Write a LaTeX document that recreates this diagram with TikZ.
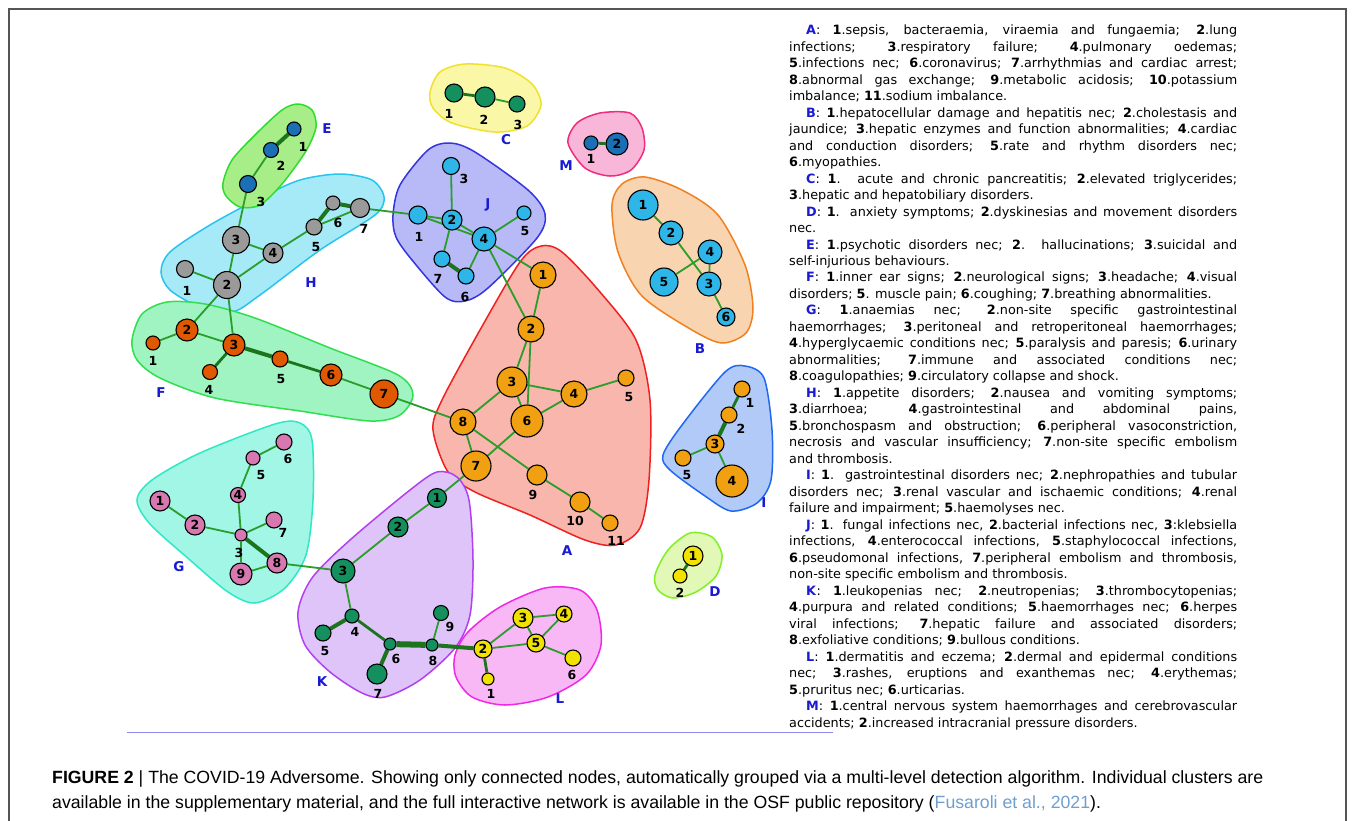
\documentclass[tikz,border=0pt]{standalone}
\usepackage{fontspec}
\setmainfont{DejaVu Sans}
\newfontfamily\capfont{Liberation Sans}
\pgfdeclarelayer{bg}
\pgfdeclarelayer{hulls}
\pgfdeclarelayer{edges}
\pgfsetlayers{bg,hulls,edges,main}
\definecolor{edgeg}{HTML}{2A9D2A}
\definecolor{edgek}{HTML}{1C741C}
\definecolor{nE}{HTML}{1A6FB5}
\definecolor{nH}{HTML}{9A9A9A}
\definecolor{nF}{HTML}{E05800}
\definecolor{nG}{HTML}{D878B0}
\definecolor{nK}{HTML}{14905E}
\definecolor{nL}{HTML}{F2E200}
\definecolor{nA}{HTML}{F0A010}
\definecolor{nJ}{HTML}{2EB6E8}
\definecolor{lblue}{HTML}{1A1AD0}
\definecolor{framec}{HTML}{555555}
\definecolor{rulec}{HTML}{8C8CF0}
\definecolor{refc}{HTML}{6F9FD0}
% hull colours
\definecolor{hEf}{HTML}{A8EE88}\definecolor{hEd}{HTML}{2EDC2E}
\definecolor{hHf}{HTML}{A6EAF8}\definecolor{hHd}{HTML}{28C4EE}
\definecolor{hFf}{HTML}{A0F4C2}\definecolor{hFd}{HTML}{30DE50}
\definecolor{hGf}{HTML}{A2F6E6}\definecolor{hGd}{HTML}{2EE8C6}
\definecolor{hAf}{HTML}{F8B6AC}\definecolor{hAd}{HTML}{F02020}
\definecolor{hKf}{HTML}{DEC4F8}\definecolor{hKd}{HTML}{B040F0}
\definecolor{hLf}{HTML}{F8B8F6}\definecolor{hLd}{HTML}{F028E8}
\definecolor{hJf}{HTML}{B8BAF8}\definecolor{hJd}{HTML}{3434E0}
\definecolor{hCf}{HTML}{FAF8A6}\definecolor{hCd}{HTML}{F0E030}
\definecolor{hMf}{HTML}{F8B6D8}\definecolor{hMd}{HTML}{F02C7C}
\definecolor{hBf}{HTML}{F9D4B0}\definecolor{hBd}{HTML}{F08020}
\definecolor{hIf}{HTML}{B2CAF8}\definecolor{hId}{HTML}{2068F0}
\definecolor{hDf}{HTML}{E2F8B6}\definecolor{hDd}{HTML}{80F028}
\newcommand\clab[1]{\textcolor{lblue}{\textbf{#1}}}
\newcommand\nbf[1]{\textbf{#1}}
\tikzset{
  nd/.style={circle, draw=black, line width=1.1pt, inner sep=0pt, minimum size=#1,
    font=\bfseries\fontsize{12.5}{13}\selectfont},
  ed/.style={draw=edgeg, line width=1.8pt},
  edm/.style={draw=edgek, line width=2.8pt},
  edk/.style={draw=edgek, line width=4pt},
  edx/.style={draw=edgek, line width=6pt},
  lab/.style={inner sep=0pt, font=\bfseries\fontsize{12.5}{13}\selectfont},
  clu/.style={inner sep=0pt, text=lblue, font=\bfseries\fontsize{13.5}{14}\selectfont},
  hull/.style 2 args={fill=#1, draw=#2, line width=1.5pt},
  tl/.style={anchor=base west, inner sep=0pt, font=\fontsize{12.8}{16}\selectfont},
  capl/.style={anchor=base west, inner sep=0pt, font=\capfont\fontsize{17.7}{20}\selectfont},
}
\begin{document}
\begin{tikzpicture}[x=1pt,y=-1pt]
\useasboundingbox (0,0) rectangle (1355,820);
\begin{pgfonlayer}{bg}
\fill[white] (0,0) rectangle (1355,820);
\end{pgfonlayer}
\draw[framec, line width=1.2pt] (9,840) -- (9,9) -- (1346,9) -- (1346,840);

% ---------- hulls ----------
\begin{pgfonlayer}{hulls}
\filldraw[hull={hHf}{hHd}] plot[smooth cycle] coordinates {(161,272) (170,252) (210,225) (260,198) (300,180) (340,174) (372,180) (384,197) (375,215) (320,250) (260,295) (232,312) (198,306) (170,290)};
\filldraw[hull={hEf}{hEd}] plot[smooth cycle] coordinates {(223,183) (232,160) (255,135) (282,110) (298,104) (312,110) (316,127) (306,151) (282,184) (260,205) (240,207) (226,196)};
\filldraw[hull={hFf}{hFd}] plot[smooth cycle] coordinates {(132,340) (142,314) (167,302) (205,304) (255,318) (330,348) (398,375) (413,395) (400,415) (370,421) (300,411) (215,398) (160,378) (137,360)};
\filldraw[hull={hGf}{hGd}] plot[smooth cycle] coordinates {(137,500) (152,480) (200,453) (275,424) (300,423) (312,440) (313,500) (306,555) (285,588) (255,603) (228,592) (190,560) (150,524)};
\filldraw[hull={hAf}{hAd}] plot[smooth cycle] coordinates {(541,246) (562,252) (600,292) (636,340) (650,400) (649,480) (640,528) (616,545) (585,540) (530,515) (475,492) (448,472) (433,430) (442,400) (480,330) (520,262)};
\filldraw[hull={hKf}{hKd}] plot[smooth cycle] coordinates {(437,472) (457,477) (469,500) (473,560) (470,615) (455,648) (420,680) (385,697) (362,693) (330,672) (305,645) (298,612) (312,578) (350,540) (410,490)};
\filldraw[hull={hLf}{hLd}] plot[smooth cycle] coordinates {(455,655) (468,632) (500,607) (545,588) (580,590) (597,610) (601,645) (586,675) (548,697) (505,705) (472,697) (456,677)};
\filldraw[hull={hJf}{hJd}] plot[smooth cycle] coordinates {(393,215) (400,185) (428,150) (450,143) (475,152) (528,190) (545,214) (537,238) (488,288) (465,301) (445,297) (412,260) (396,237)};
\filldraw[hull={hCf}{hCd}] plot[smooth cycle] coordinates {(430,92) (440,72) (465,64) (505,68) (532,84) (541,105) (527,126) (495,132) (452,123) (433,108)};
\filldraw[hull={hMf}{hMd}] plot[smooth cycle] coordinates {(568,143) (577,123) (600,113) (630,113) (642,128) (644,150) (631,170) (610,176) (585,168)};
\filldraw[hull={hBf}{hBd}] plot[smooth cycle] coordinates {(612,205) (622,184) (645,177) (682,190) (718,215) (745,265) (753,308) (746,333) (722,343) (692,330) (642,296) (618,252)};
\filldraw[hull={hIf}{hId}] plot[smooth cycle] coordinates {(663,455) (682,425) (725,372) (745,366) (764,378) (772,430) (771,480) (757,503) (731,511) (705,496) (670,470)};
\filldraw[hull={hDf}{hDd}] plot[smooth cycle] coordinates {(655,575) (668,550) (690,533) (712,537) (722,555) (716,576) (696,592) (673,598) (658,590)};
\end{pgfonlayer}

% ---------- nodes ----------
% E
\node[nd=14, fill=nE] (E1) at (294,129) {};
\node[nd=15, fill=nE] (E2) at (271,150) {};
\node[nd=17, fill=nE] (E3) at (248,184) {};
% H
\node[nd=17, fill=nH] (H1) at (185,269) {};
\node[nd=27, fill=nH] (H2) at (227,285) {2};
\node[nd=27, fill=nH] (H3) at (236,240) {3};
\node[nd=20, fill=nH] (H4) at (273,253) {4};
\node[nd=16, fill=nH] (H5) at (314,227) {};
\node[nd=14, fill=nH] (H6) at (333,203) {};
\node[nd=19, fill=nH] (H7) at (360,208) {};
% F
\node[nd=14, fill=nF] (F1) at (153,343) {};
\node[nd=22, fill=nF] (F2) at (187,330) {2};
\node[nd=22, fill=nF] (F3) at (234,345) {3};
\node[nd=15, fill=nF] (F4) at (210,372) {};
\node[nd=16, fill=nF] (F5) at (280,359) {};
\node[nd=22, fill=nF] (F6) at (331,375) {6};
\node[nd=28, fill=nF] (F7) at (384,394) {7};
% G
\node[nd=20, fill=nG] (G1) at (160,501) {1};
\node[nd=20, fill=nG] (G2) at (195,525) {2};
\node[nd=12, fill=nG] (G3) at (241,535) {};
\node[nd=15, fill=nG] (G4) at (238,495) {4};
\node[nd=14, fill=nG] (G5) at (253,458) {};
\node[nd=16, fill=nG] (G6) at (284,442) {};
\node[nd=16, fill=nG] (G7) at (274,520) {};
\node[nd=20, fill=nG] (G8) at (277,563) {8};
\node[nd=22, fill=nG] (G9) at (241,574) {9};
% K
\node[nd=19, fill=nK] (K1) at (437,498) {1};
\node[nd=20, fill=nK] (K2) at (398,527) {2};
\node[nd=24, fill=nK] (K3) at (343,571) {3};
\node[nd=14, fill=nK] (K4) at (352,616) {};
\node[nd=16, fill=nK] (K5) at (323,633) {};
\node[nd=12, fill=nK] (K6) at (390,644) {};
\node[nd=20, fill=nK] (K7) at (377,674) {};
\node[nd=12, fill=nK] (K8) at (432,645) {};
\node[nd=15, fill=nK] (K9) at (441,613) {};
% L
\node[nd=12, fill=nL] (L1) at (488,679) {};
\node[nd=18, fill=nL] (L2) at (483,649) {2};
\node[nd=20, fill=nL] (L3) at (523,618) {3};
\node[nd=16, fill=nL] (L4) at (564,614) {4};
\node[nd=18, fill=nL] (L5) at (536,643) {5};
\node[nd=16, fill=nL] (L6) at (573,658) {};
% A
\node[nd=26, fill=nA] (A1) at (543,275) {1};
\node[nd=26, fill=nA] (A2) at (531,329) {2};
\node[nd=30, fill=nA] (A3) at (512,382) {3};
\node[nd=26, fill=nA] (A4) at (574,394) {4};
\node[nd=16, fill=nA] (A5) at (626,378) {};
\node[nd=32, fill=nA] (A6) at (527,421) {6};
\node[nd=30, fill=nA] (A7) at (476,466) {7};
\node[nd=26, fill=nA] (A8) at (463,422) {8};
\node[nd=20, fill=nA] (A9) at (537,475) {};
\node[nd=20, fill=nA] (A10) at (580,502) {};
\node[nd=16, fill=nA] (A11) at (610,523) {};
% J
\node[nd=18, fill=nJ] (J1) at (418,215) {};
\node[nd=20, fill=nJ] (J2) at (452,220) {2};
\node[nd=17, fill=nJ] (J3) at (451,166) {};
\node[nd=24, fill=nJ] (J4) at (484,239) {4};
\node[nd=14, fill=nJ] (J5) at (524,213) {};
\node[nd=16, fill=nJ] (J6) at (466,276) {};
\node[nd=16, fill=nJ] (J7) at (442,259) {};
% C
\node[nd=18, fill=nK] (C1) at (454,93) {};
\node[nd=20, fill=nK] (C2) at (485,97) {};
\node[nd=16, fill=nK] (C3) at (517,104) {};
% M
\node[nd=14, fill=nE] (M1) at (591,143) {};
\node[nd=22, fill=nE] (M2) at (617,144) {2};
% B
\node[nd=30, fill=nJ] (B1) at (643,205) {1};
\node[nd=24, fill=nJ] (B2) at (671,233) {2};
\node[nd=24, fill=nJ] (B3) at (709,284) {3};
\node[nd=24, fill=nJ] (B4) at (710,252) {4};
\node[nd=28, fill=nJ] (B5) at (664,282) {5};
\node[nd=18, fill=nJ] (B6) at (726,317) {6};
% I
\node[nd=16, fill=nA] (I1) at (742,389) {};
\node[nd=16, fill=nA] (I2) at (729,415) {};
\node[nd=18, fill=nA] (I3) at (715,444) {3};
\node[nd=32, fill=nA] (I4) at (732,481) {4};
\node[nd=16, fill=nA] (I5) at (683,458) {};
% D
\node[nd=20, fill=nL] (D1) at (693,556) {1};
\node[nd=14, fill=nL] (D2) at (680,576) {};

% ---------- edges ----------
\begin{pgfonlayer}{edges}
\draw[edk] (E1) -- (E2);
\draw[ed] (E2) -- (E3);
\draw[ed] (E3) -- (H3);
\draw[ed] (H1) -- (H2);
\draw[ed] (H2) -- (H3);
\draw[ed] (H2) -- (H4);
\draw[ed] (H3) -- (H4);
\draw[ed] (H4) -- (H5);
\draw[edk] (H5) -- (H6);
\draw[edk] (H6) -- (H7);
\draw[ed] (H5) -- (H7);
\draw[ed] (H7) -- (J1);
\draw[ed] (H2) -- (F2);
\draw[ed] (H2) -- (F3);
\draw[ed] (F1) -- (F2);
\draw[ed] (F2) -- (F3);
\draw[edm] (F3) -- (F4);
\draw[edk] (F3) -- (F5);
\draw[edm] (F5) -- (F6);
\draw[ed] (F6) -- (F7);
\draw[ed] (F7) -- (A8);
\draw[ed] (G1) -- (G2);
\draw[ed] (G2) -- (G3);
\draw[ed] (G3) -- (G4);
\draw[ed] (G4) -- (G5);
\draw[ed] (G5) -- (G6);
\draw[ed] (G3) -- (G7);
\draw[edk] (G3) -- (G8);
\draw[ed] (G3) -- (G9);
\draw[ed] (G9) -- (G8);
\draw[ed] (G8) -- (K3);
\draw[ed] (K1) -- (K2);
\draw[ed] (K2) -- (K3);
\draw[ed] (K3) -- (K4);
\draw[edk] (K4) -- (K5);
\draw[edm] (K4) -- (K6);
\draw[edk] (K6) -- (K7);
\draw[edx] (K6) -- (K8);
\draw[ed] (K8) -- (K9);
\draw[edk] (K8) -- (L2);
\draw[ed] (K1) -- (A7);
\draw[edm] (L2) -- (L1);
\draw[ed] (L2) -- (L3);
\draw[ed] (L2) -- (L5);
\draw[ed] (L3) -- (L5);
\draw[ed] (L3) -- (L4);
\draw[ed] (L4) -- (L5);
\draw[ed] (L5) -- (L6);
\draw[ed] (A1) -- (A2);
\draw[ed] (A2) -- (A3);
\draw[ed] (A2) -- (A6);
\draw[ed] (A3) -- (A4);
\draw[ed] (A3) -- (A6);
\draw[ed] (A4) -- (A6);
\draw[ed] (A4) -- (A5);
\draw[ed] (A3) -- (A8);
\draw[ed] (A8) -- (A7);
\draw[ed] (A8) -- (A9);
\draw[ed] (A9) -- (A10);
\draw[ed] (A10) -- (A11);
\draw[ed] (A6) -- (A7);
\draw[ed] (J3) -- (J2);
\draw[ed] (J1) -- (J2);
\draw[ed] (J1) -- (J4);
\draw[ed] (J2) -- (J4);
\draw[ed] (J2) -- (J7);
\draw[edk] (J7) -- (J6);
\draw[ed] (J6) -- (J4);
\draw[ed] (J4) -- (J5);
\draw[ed] (J4) -- (A1);
\draw[ed] (J4) -- (A2);
\draw[edm] (C1) -- (C2);
\draw[ed] (C2) -- (C3);
\draw[edm] (M1) -- (M2);
\draw[ed] (B1) -- (B2);
\draw[ed] (B2) -- (B3);
\draw[ed] (B4) -- (B3);
\draw[ed] (B5) -- (B4);
\draw[ed] (B3) -- (B6);
\draw[edm] (I1) -- (I2);
\draw[edk] (I2) -- (I3);
\draw[ed] (I3) -- (I5);
\draw[ed] (I3) -- (I4);
\draw[edm] (D1) -- (D2);
\end{pgfonlayer}

% ---------- outside labels ----------
\node[lab] (lE1) at (303,147) {1};
\node[lab] (lE2) at (281,166) {2};
\node[lab] (lE3) at (261,202) {3};
\node[clu] (cE) at (327,129) {E};
\node[lab] (lH1) at (187,291) {1};
\node[lab] (lH5) at (316,247) {5};
\node[lab] (lH6) at (338,223) {6};
\node[lab] (lH7) at (364,229) {7};
\node[clu] (cH) at (311,283) {H};
\node[lab] (lF1) at (153,361) {1};
\node[lab] (lF4) at (209,390) {4};
\node[lab] (lF5) at (281,379) {5};
\node[clu] (cF) at (161,393) {F};
\node[lab] (lG6) at (288,459) {6};
\node[lab] (lG5) at (261,475) {5};
\node[lab] (lG7) at (283,533) {7};
\node[lab] (lG3) at (239,553) {3};
\node[clu] (cG) at (179,567) {G};
\node[lab] (lK4) at (355,632) {4};
\node[lab] (lK5) at (325,651) {5};
\node[lab] (lK6) at (396,659) {6};
\node[lab] (lK8) at (433,661) {8};
\node[lab] (lK9) at (450,627) {9};
\node[lab] (lK7) at (378,694) {7};
\node[clu] (cK) at (322,682) {K};
\node[lab] (lL1) at (491,694) {1};
\node[lab] (lL6) at (572,675) {6};
\node[clu] (cL) at (560,699) {L};
\node[lab] (lA5) at (629,397) {5};
\node[lab] (lA9) at (533,495) {9};
\node[lab] (lA10) at (575,521) {10};
\node[lab] (lA11) at (616,541) {11};
\node[clu] (cA) at (567,551) {A};
\node[lab] (lJ3) at (464,179) {3};
\node[lab] (lJ1) at (419,237) {1};
\node[lab] (lJ5) at (525,231) {5};
\node[lab] (lJ7) at (438,279) {7};
\node[lab] (lJ6) at (465,297) {6};
\node[clu] (cJ) at (488,205) {J};
\node[lab] (lC1) at (449,114) {1};
\node[lab] (lC2) at (484,120) {2};
\node[lab] (lC3) at (518,125) {3};
\node[clu] (cC) at (506,140) {C};
\node[lab] (lM1) at (591,159) {1};
\node[clu] (cM) at (566,166) {M};
\node[clu] (cB) at (700,349) {B};
\node[lab] (lI1) at (750,403) {1};
\node[lab] (lI2) at (741,429) {2};
\node[lab] (lI5) at (687,475) {5};
\node[clu] (cI) at (764,503) {I};
\node[lab] (lD2) at (680,593) {2};
\node[clu] (cD) at (715,592) {D};

% ---------- legend text ----------
\node[tl] (t1) at (806,34.6) {\makebox[431pt][s]{\clab{A}: \nbf{1}.sepsis, bacteraemia, viraemia and fungaemia; \nbf{2}.lung}};
\node[tl] (t2) at (789,51.1) {\makebox[448pt][s]{infections; \nbf{3}.respiratory failure; \nbf{4}.pulmonary oedemas;}};
\node[tl] (t3) at (789,67.6) {\makebox[448pt][s]{\nbf{5}.infections nec; \nbf{6}.coronavirus; \nbf{7}.arrhythmias and cardiac arrest;}};
\node[tl] (t4) at (789,84.1) {\makebox[448pt][s]{\nbf{8}.abnormal gas exchange; \nbf{9}.metabolic acidosis; \nbf{10}.potassium}};
\node[tl] (t5) at (789,100.6) {imbalance; \nbf{11}.sodium imbalance.};
\node[tl] (t6) at (806,117.1) {\makebox[431pt][s]{\clab{B}: \nbf{1}.hepatocellular damage and hepatitis nec; \nbf{2}.cholestasis and}};
\node[tl] (t7) at (789,133.5) {\makebox[448pt][s]{jaundice; \nbf{3}.hepatic enzymes and function abnormalities; \nbf{4}.cardiac}};
\node[tl] (t8) at (789,150.0) {\makebox[448pt][s]{and conduction disorders; \nbf{5}.rate and rhythm disorders nec;}};
\node[tl] (t9) at (789,166.5) {\nbf{6}.myopathies.};
\node[tl] (t10) at (806,183.0) {\makebox[431pt][s]{\clab{C}: \nbf{1}. acute and chronic pancreatitis; \nbf{2}.elevated triglycerides;}};
\node[tl] (t11) at (789,199.5) {\nbf{3}.hepatic and hepatobiliary disorders.};
\node[tl] (t12) at (806,216.0) {\makebox[431pt][s]{\clab{D}: \nbf{1}. anxiety symptoms; \nbf{2}.dyskinesias and movement disorders}};
\node[tl] (t13) at (789,232.5) {nec.};
\node[tl] (t14) at (806,249.0) {\makebox[431pt][s]{\clab{E}: \nbf{1}.psychotic disorders nec; \nbf{2}. hallucinations; \nbf{3}.suicidal and}};
\node[tl] (t15) at (789,265.5) {self-injurious behaviours.};
\node[tl] (t16) at (806,281.9) {\makebox[431pt][s]{\clab{F}: \nbf{1}.inner ear signs; \nbf{2}.neurological signs; \nbf{3}.headache; \nbf{4}.visual}};
\node[tl] (t17) at (789,298.4) {disorders; \nbf{5}. muscle pain; \nbf{6}.coughing; \nbf{7}.breathing abnormalities.};
\node[tl] (t18) at (806,314.9) {\makebox[431pt][s]{\clab{G}: \nbf{1}.anaemias nec; \nbf{2}.non-site specific gastrointestinal}};
\node[tl] (t19) at (789,331.4) {\makebox[448pt][s]{haemorrhages; \nbf{3}.peritoneal and retroperitoneal haemorrhages;}};
\node[tl] (t20) at (789,347.9) {\makebox[448pt][s]{\nbf{4}.hyperglycaemic conditions nec; \nbf{5}.paralysis and paresis; \nbf{6}.urinary}};
\node[tl] (t21) at (789,364.4) {\makebox[448pt][s]{abnormalities; \nbf{7}.immune and associated conditions nec;}};
\node[tl] (t22) at (789,380.9) {\nbf{8}.coagulopathies; \nbf{9}.circulatory collapse and shock.};
\node[tl] (t23) at (806,397.4) {\makebox[431pt][s]{\clab{H}: \nbf{1}.appetite disorders; \nbf{2}.nausea and vomiting symptoms;}};
\node[tl] (t24) at (789,413.9) {\makebox[448pt][s]{\nbf{3}.diarrhoea; \nbf{4}.gastrointestinal and abdominal pains,}};
\node[tl] (t25) at (789,430.4) {\makebox[448pt][s]{\nbf{5}.bronchospasm and obstruction; \nbf{6}.peripheral vasoconstriction,}};
\node[tl] (t26) at (789,446.9) {\makebox[448pt][s]{necrosis and vascular insufficiency; \nbf{7}.non-site specific embolism}};
\node[tl] (t27) at (789,463.3) {and thrombosis.};
\node[tl] (t28) at (806,479.8) {\makebox[431pt][s]{\clab{I}: \nbf{1}. gastrointestinal disorders nec; \nbf{2}.nephropathies and tubular}};
\node[tl] (t29) at (789,496.3) {\makebox[448pt][s]{disorders nec; \nbf{3}.renal vascular and ischaemic conditions; \nbf{4}.renal}};
\node[tl] (t30) at (789,512.8) {failure and impairment; \nbf{5}.haemolyses nec.};
\node[tl] (t31) at (806,529.3) {\makebox[431pt][s]{\clab{J}: \nbf{1}. fungal infections nec, \nbf{2}.bacterial infections nec, \nbf{3}:klebsiella}};
\node[tl] (t32) at (789,545.8) {\makebox[448pt][s]{infections, \nbf{4}.enterococcal infections, \nbf{5}.staphylococcal infections,}};
\node[tl] (t33) at (789,562.3) {\makebox[448pt][s]{\nbf{6}.pseudomonal infections, \nbf{7}.peripheral embolism and thrombosis,}};
\node[tl] (t34) at (789,578.8) {non-site specific embolism and thrombosis.};
\node[tl] (t35) at (806,595.3) {\makebox[431pt][s]{\clab{K}: \nbf{1}.leukopenias nec; \nbf{2}.neutropenias; \nbf{3}.thrombocytopenias;}};
\node[tl] (t36) at (789,611.8) {\makebox[448pt][s]{\nbf{4}.purpura and related conditions; \nbf{5}.haemorrhages nec; \nbf{6}.herpes}};
\node[tl] (t37) at (789,628.3) {\makebox[448pt][s]{viral infections; \nbf{7}.hepatic failure and associated disorders;}};
\node[tl] (t38) at (789,644.7) {\nbf{8}.exfoliative conditions; \nbf{9}.bullous conditions.};
\node[tl] (t39) at (806,661.2) {\makebox[431pt][s]{\clab{L}: \nbf{1}.dermatitis and eczema; \nbf{2}.dermal and epidermal conditions}};
\node[tl] (t40) at (789,677.7) {\makebox[448pt][s]{nec; \nbf{3}.rashes, eruptions and exanthemas nec; \nbf{4}.erythemas;}};
\node[tl] (t41) at (789,694.2) {\nbf{5}.pruritus nec; \nbf{6}.urticarias.};
\node[tl] (t42) at (806,710.7) {\makebox[431pt][s]{\clab{M}: \nbf{1}.central nervous system haemorrhages and cerebrovascular}};
\node[tl] (t43) at (789,727.2) {accidents; \nbf{2}.increased intracranial pressure disorders.};

% ---------- rule and caption ----------
\coordinate (r1) at (127,732.5);
\coordinate (r2) at (833,732.5);
\draw[rulec, line width=1.4pt] (r1) -- (r2);
\node[capl] (cap1) at (52,783) {\textbf{FIGURE 2} | The COVID-19 Adversome. Showing only connected nodes, automatically grouped via a multi-level detection algorithm. Individual clusters are};
\node[capl] (cap2) at (52,808) {available in the supplementary material, and the full interactive network is available in the OSF public repository (\textcolor{refc}{Fusaroli et al., 2021}).};
\end{tikzpicture}
\end{document}
